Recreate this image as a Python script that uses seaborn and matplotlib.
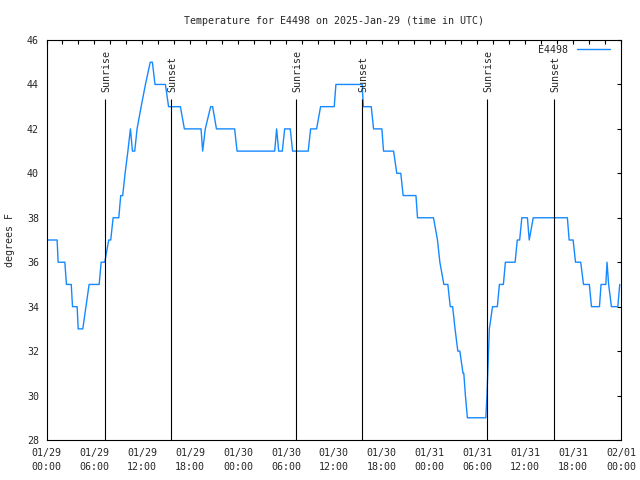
import matplotlib
matplotlib.use('Agg')
import matplotlib.pyplot as plt
import matplotlib.dates as mdates
import pandas as pd
import seaborn as sns

# ---- data ----
hours = [0.0, 1.33, 1.46, 2.3, 2.5, 3.1, 3.26, 3.84, 3.97, 4.55, 5.34, 6.6, 6.85, 7.3,
         7.8, 8.05, 8.35, 9.06, 9.3, 9.55, 9.85, 10.2, 10.52, 10.77, 11.06, 11.35,
         11.86, 12.4, 13.0, 13.27, 13.6, 14.9, 15.3, 16.78, 17.28, 19.37, 19.57, 19.9,
         20.57, 20.82, 21.3, 23.58, 23.88, 28.6, 28.84, 29.1, 29.55, 29.85, 30.55,
         30.84, 32.8, 33.1, 33.85, 34.35, 36.06, 36.27, 39.57, 39.7, 40.7, 40.99,
         42.03, 42.24, 43.5, 43.9, 44.4, 44.7, 46.3, 46.5, 48.5, 49.0, 49.3, 49.8,
         50.3, 50.6, 50.9, 51.2, 51.55, 51.8, 52.2, 52.3, 52.5, 52.75, 55.06, 55.2,
         55.5, 55.9, 56.5, 56.76, 57.26, 57.51, 58.73, 59.0, 59.3, 59.57, 60.27, 60.5,
         61.0, 65.28, 65.5, 66.0, 66.3, 66.95, 67.3, 68.03, 68.3, 69.3, 69.5, 70.1,
         70.25, 70.45, 70.8, 71.6, 71.84]
temps = [37, 37, 36, 36, 35, 35, 34, 34, 33, 33, 35, 35, 36, 36,
         37, 37, 38, 38, 39, 39, 40, 41, 42, 41, 41, 42,
         43, 44, 45, 45, 44, 44, 43, 43, 42, 42, 41, 42,
         43, 43, 42, 42, 41, 41, 42, 41, 41, 42, 42,
         41, 41, 42, 42, 43, 43, 44, 44, 43, 43, 42,
         42, 41, 41, 40, 40, 39, 39, 38, 38, 37, 36, 35,
         35, 34, 34, 33, 32, 32, 31, 31, 30, 29, 29, 30,
         33, 34, 34, 35, 35, 36, 36, 37, 37, 38, 38, 37,
         38, 38, 37, 37, 36, 36, 35, 35, 34, 34, 35, 35,
         36, 35, 34, 34, 35]
station = "E4498"
sunrise_hours = [7.33, 31.33, 55.25]
sunset_hours = [15.58, 39.6, 63.65]
yticks = list(range(28, 47, 2))

start = pd.Timestamp("2025-01-29 00:00")
df = pd.DataFrame({
    "time": start + pd.to_timedelta(hours, unit="h"),
    "temp": temps,
    "station": station,
})
sunrise_t = start + pd.to_timedelta(sunrise_hours, unit="h")
sunset_t = start + pd.to_timedelta(sunset_hours, unit="h")

sns.set_style("white")
plt.rcParams["font.family"] = ["DejaVu Sans Mono", "DejaVu Sans"]
FS = 7.2

fig = plt.figure(figsize=(6.4, 4.8), dpi=100)
ax = fig.add_axes([46.5 / 640, 40 / 480, 574.5 / 640, 400 / 480])

sns.lineplot(data=df, x="time", y="temp", hue="station", palette=["#1589ff"],
             estimator=None, sort=False, lw=1.0, ax=ax)

line_top = 43.33
ax.vlines(sunrise_t, 28, line_top, color="black", lw=0.8)
ax.vlines(sunset_t, 28, line_top, color="black", lw=0.8)
for t in sunrise_t:
    ax.annotate("Sunrise", (t, line_top), xytext=(0.8, 5.5), textcoords="offset points",
                rotation=90, ha="center", va="bottom", fontsize=FS)
for t in sunset_t:
    ax.annotate("Sunset", (t, line_top), xytext=(0.8, 5.5), textcoords="offset points",
                rotation=90, ha="center", va="bottom", fontsize=FS)

ax.set_xlim(start, start + pd.Timedelta(hours=72))
ax.set_ylim(28, 46)
ax.set_yticks(yticks)
ax.xaxis.set_major_locator(mdates.HourLocator(byhour=[0, 6, 12, 18]))
ax.xaxis.set_major_formatter(mdates.DateFormatter("%m/%d\n%H:%M"))
ax.xaxis.set_minor_locator(mdates.HourLocator(byhour=list(range(0, 24, 2))))
ax.tick_params(which="both", direction="in", top=True, right=True, length=2.6,
               width=0.8, color="black", labelsize=FS)
ax.tick_params(axis="y", pad=5.5)
ax.tick_params(axis="x", pad=6)
for s in ax.spines.values():
    s.set_color("black")
    s.set_linewidth(0.8)
ax.set_xlabel("")
ax.set_ylabel("")

handles, labels = ax.get_legend_handles_labels()
ax.legend(handles, labels, loc="upper right", bbox_to_anchor=(0.9878, 0.998),
          frameon=False, markerfirst=False, handlelength=3.3, handletextpad=0.9,
          borderaxespad=0.0, borderpad=0.4, fontsize=FS)

fig.text(333.7 / 640, 1 - 20.5 / 480, "Temperature for E4498 on 2025-Jan-29 (time in UTC)",
         ha="center", va="center", fontsize=FS)
fig.text(10 / 640, 0.5, "degrees F", rotation=90, ha="center", va="center", fontsize=FS)

fig.canvas.draw()
for tk in ax.xaxis.get_major_ticks():
    tk.label1.set_linespacing(1.45)

fig.savefig("out.png", dpi=100)
